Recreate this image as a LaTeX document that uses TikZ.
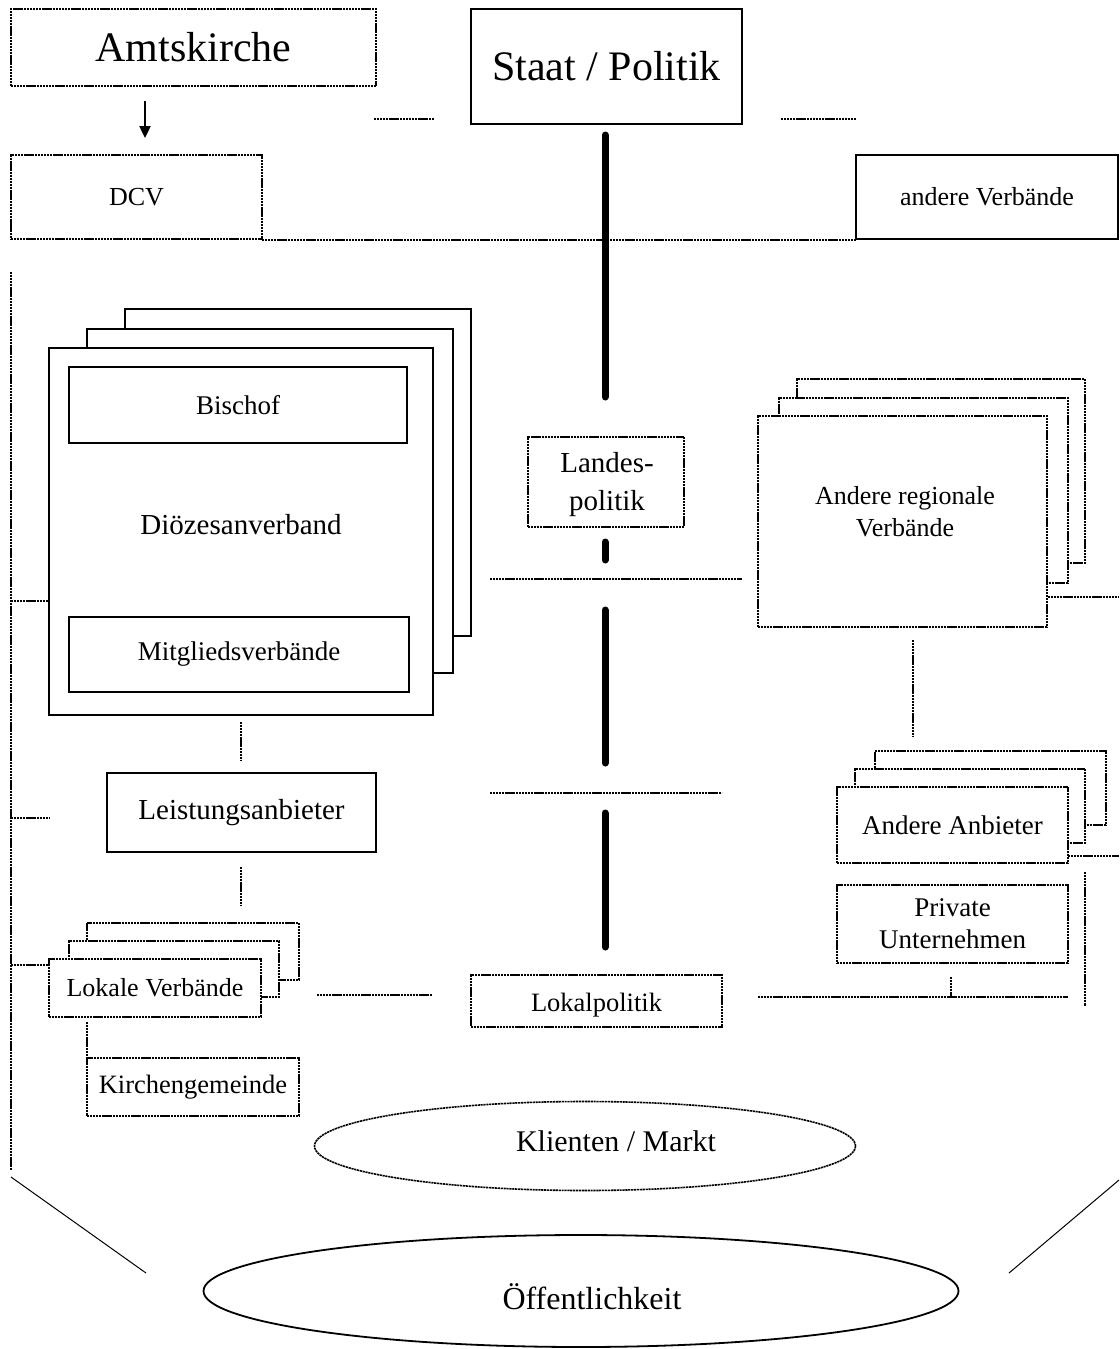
\documentclass[tikz,border=0pt]{standalone}
\usepackage{fontspec}
\setmainfont{Liberation Serif}
\usetikzlibrary{shapes.geometric,arrows.meta}
\begin{document}
\begin{tikzpicture}[x=1pt,y=-1pt,
  dl/.style={line width=1.6pt, dash pattern=on 2.2pt off 0.7pt},
  sl/.style={line width=1.8pt},
  tl/.style={line width=7pt, line cap=round},
  fs/.style 2 args={font=\fontsize{#1}{#2}\selectfont},
  dbox/.style={draw, dl, fill=white, rectangle, inner sep=0pt, outer sep=0pt, align=center},
  sbox/.style={draw, sl, fill=white, rectangle, inner sep=0pt, outer sep=0pt, align=center},
  txt/.style={inner sep=0pt, align=center}]
\useasboundingbox (0,0) rectangle (1119,1349);

% top row
\node[dbox, minimum width=365pt, minimum height=77pt, fs={42pt}{48pt}] (amt) at (193.5,47.5) {Amtskirche};
\node[sbox, minimum width=271pt, minimum height=115pt, fs={42pt}{48pt}] (staat) at (606.5,66.5) {Staat / Politik};
\node[dbox, minimum width=251pt, minimum height=84pt, fs={26pt}{31pt}] (dcv) at (136.5,197) {DCV};
\node[sbox, minimum width=262pt, minimum height=84pt, fs={26pt}{31pt}] (av) at (987,197) {andere Verb\"ande};

% Dioezesanverband stack
\node[sbox, minimum width=346pt, minimum height=327pt] (dz3) at (298,472.5) {};
\node[sbox, minimum width=366pt, minimum height=344pt] (dz2) at (270,501) {};
\node[sbox, minimum width=384pt, minimum height=367pt] (dz1) at (241,531.5) {};
\node[txt, fs={29pt}{34pt}] (dzt) at (241,525) {Di\"ozesanverband};
\node[sbox, minimum width=338pt, minimum height=76pt, fs={27pt}{32pt}] (bis) at (238,405) {Bischof};
\node[sbox, minimum width=340pt, minimum height=75pt, fs={27pt}{32pt}] (mit) at (239,654.5) {Mitgliedsverb\"ande};

\node[sbox, minimum width=269pt, minimum height=79pt, fs={29pt}{34pt}] (leis) at (241.5,812.5) {Leistungsanbieter};

% Lokale Verbaende stack
\node[dbox, minimum width=212pt, minimum height=57pt] (lok3) at (193,951.5) {};
\node[dbox, minimum width=210pt, minimum height=56pt] (lok2) at (174,969) {};
\node[dbox, minimum width=212pt, minimum height=58pt, fs={26pt}{31pt}] (lok1) at (155,988) {Lokale Verb\"ande};
\node[dbox, minimum width=212pt, minimum height=58pt, fs={26.5pt}{31pt}] (kir) at (193,1087) {Kirchengemeinde};

% middle column
\node[dbox, minimum width=156pt, minimum height=90pt] (lan) at (606,482) {};
\node[txt, fs={29pt}{38pt}] (lant) at (607,485) {Landes-\\politik};
\node[dbox, minimum width=251pt, minimum height=52pt] (lkp) at (596.5,1001) {};
\node[txt, fs={26.5pt}{31pt}] (lkpt) at (596.5,1005) {Lokalpolitik};

% Andere regionale Verbaende stack
\node[dbox, minimum width=288pt, minimum height=184pt] (reg3) at (941,471) {};
\node[dbox, minimum width=289pt, minimum height=185pt] (reg2) at (923.5,490.5) {};
\node[dbox, minimum width=289pt, minimum height=211pt] (reg1) at (902.5,521.5) {};
\node[txt, fs={26pt}{32pt}] (regt) at (905,512) {Andere regionale\\Verb\"ande};

% Andere Anbieter stack
\node[dbox, minimum width=231pt, minimum height=74pt] (anb3) at (990.5,788) {};
\node[dbox, minimum width=230pt, minimum height=74pt] (anb2) at (970,806) {};
\node[dbox, minimum width=231pt, minimum height=76pt, fs={27pt}{32pt}] (anb1) at (952.5,825) {Andere Anbieter};
\node[dbox, minimum width=231pt, minimum height=78pt, fs={27pt}{32pt}] (pri) at (952.5,924) {Private\\Unternehmen};

% ellipses
\node[draw, dl, ellipse, minimum width=541pt, minimum height=89pt, inner sep=0pt, outer sep=0pt] (kli) at (585,1146) {};
\node[txt, fs={30pt}{36pt}] (klit) at (616,1141) {Klienten / Markt};
\node[draw, sl, ellipse, minimum width=755pt, minimum height=112pt, inner sep=0pt, outer sep=0pt] (oef) at (581,1291) {};
\node[txt, fs={32pt}{38pt}] (oeft) at (592,1297) {\"Offentlichkeit};

% coordinates for free ends
\coordinate (ar1) at (145,101);
\coordinate (ar2) at (145,138);
\coordinate (s1a) at (374,119); \coordinate (s1b) at (434,119);
\coordinate (s2a) at (781,119); \coordinate (s2b) at (856,119);
\coordinate (t1a) at (605,135); \coordinate (t1b) at (605,397);
\coordinate (t2a) at (605,542); \coordinate (t2b) at (605,560);
\coordinate (t3a) at (605,610); \coordinate (t3b) at (605,763);
\coordinate (t4a) at (605,813); \coordinate (t4b) at (605,947);
\coordinate (h1a) at (490,579); \coordinate (h1b) at (742,579);
\coordinate (h2a) at (490,793); \coordinate (h2b) at (722,793);
\coordinate (lva) at (11,272); \coordinate (lvb) at (11,1170);
\coordinate (lb1) at (11,601);
\coordinate (lb2a) at (11,818); \coordinate (lb2b) at (50,818);
\coordinate (lb3) at (11,965);
\coordinate (v1a) at (241,722); \coordinate (v1b) at (241,760);
\coordinate (v2a) at (241,867); \coordinate (v2b) at (241,906);
\coordinate (lla) at (317,995); \coordinate (llb) at (432,995);
\coordinate (kv) at (87,1022);
\coordinate (r1a) at (1048,597); \coordinate (r1b) at (1119,597);
\coordinate (r2a) at (913,640); \coordinate (r2b) at (913,737);
\coordinate (r3a) at (1068,856); \coordinate (r3b) at (1119,856);
\coordinate (r4a) at (951,977); \coordinate (r4b) at (951,997);
\coordinate (r5a) at (758,997); \coordinate (r5b) at (1068,997);
\coordinate (r6a) at (1085,872); \coordinate (r6b) at (1085,1006);
\coordinate (dla) at (11,1177); \coordinate (dlb) at (146,1273);
\coordinate (dra) at (1119,1180); \coordinate (drb) at (1009,1273);

% connectors
\draw[line width=2.4pt, -{Triangle[length=12pt,width=11pt]}] (ar1) -- (ar2);
\draw[dl] (s1a) -- (s1b);
\draw[dl] (s2a) -- (s2b);
\draw[dl] ([yshift=-1pt]dcv.south east) -- ([yshift=-1pt]av.south west);
\draw[tl] (t1a) -- (t1b);
\draw[tl] (t2a) -- (t2b);
\draw[tl] (t3a) -- (t3b);
\draw[tl] (t4a) -- (t4b);
\draw[dl] (h1a) -- (h1b);
\draw[dl] (h2a) -- (h2b);
\draw[dl] (lva) -- (lvb);
\draw[dl] (lb1) -- (lb1 -| dz1.west);
\draw[dl] (lb2a) -- (lb2b);
\draw[dl] (lb3) -- (lb3 -| lok1.west);
\draw[dl] (v1a) -- (v1b);
\draw[dl] (v2a) -- (v2b);
\draw[dl] (lla) -- (llb);
\draw[dl] (kv) -- (kir.north west);
\draw[dl] (r1a) -- (r1b);
\draw[dl] (r2a) -- (r2b);
\draw[dl] (r3a) -- (r3b);
\draw[dl] (r4a) -- (r4b);
\draw[dl] (r5a) -- (r5b);
\draw[dl] (r6a) -- (r6b);
\draw[line width=1pt] (dla) -- (dlb);
\draw[line width=1pt] (dra) -- (drb);
\end{tikzpicture}
\end{document}
